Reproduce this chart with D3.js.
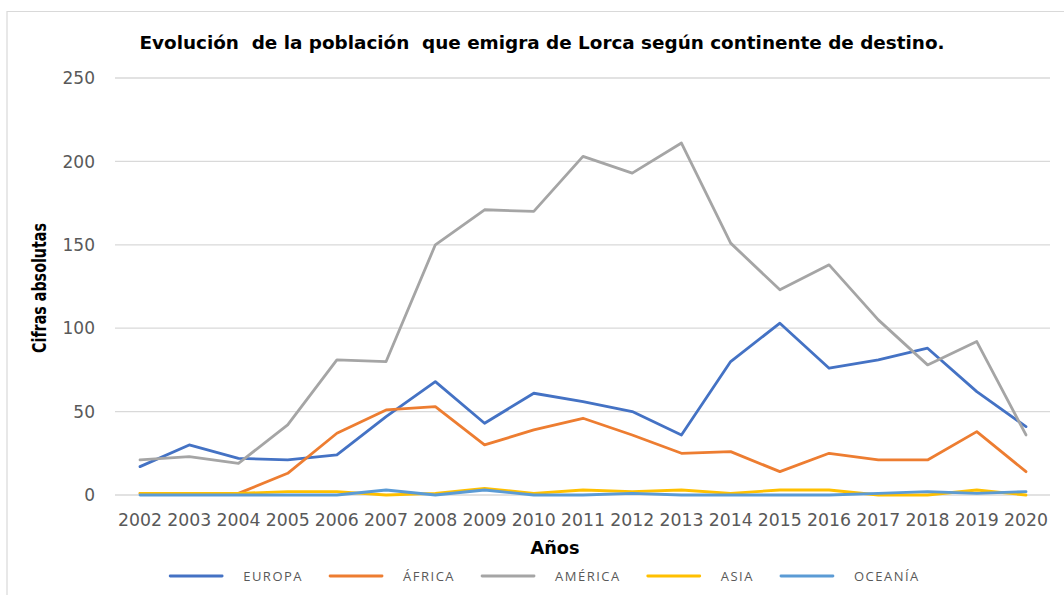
<!DOCTYPE html>
<html>
<head>
<meta charset="utf-8">
<script src="https://cdn.jsdelivr.net/npm/d3@7"></script>
<style>
  html, body { margin: 0; padding: 0; background: #fff; }
  svg { display: block; }
  text { white-space: pre; }
</style>
</head>
<body>
<svg id="chart" width="1064" height="595"></svg>
<script>
// years on the x axis
const years = ["2002","2003","2004","2005","2006","2007","2008","2009","2010","2011",
               "2012","2013","2014","2015","2016","2017","2018","2019","2020"];

// emigrants per destination continent
const europa  = [17, 30, 22, 21, 24, 47, 68, 43, 61, 56, 50, 36, 80, 103, 76, 81, 88, 62, 41];
const africa  = [1, 1, 1, 13, 37, 51, 53, 30, 39, 46, 36, 25, 26, 14, 25, 21, 21, 38, 14];
const america = [21, 23, 19, 42, 81, 80, 150, 171, 170, 203, 193, 211, 151, 123, 138, 105, 78, 92, 36];
const asia    = [1, 1, 1, 2, 2, 0, 1, 4, 1, 3, 2, 3, 1, 3, 3, 0, 0, 3, 0];
const oceania = [0, 0, 0, 0, 0, 3, 0, 3, 0, 0, 1, 0, 0, 0, 0, 1, 2, 1, 2];

const seriesNames = ["EUROPA", "ÁFRICA", "AMÉRICA", "ASIA", "OCEANÍA"];
const seriesColors = ["#4472C4", "#ED7D31", "#A5A5A5", "#FFC000", "#5B9BD5"];
const yTicks = [0, 50, 100, 150, 200, 250];

const series = [europa, africa, america, asia, oceania].map((vals, i) => ({
  name: seriesNames[i],
  color: seriesColors[i],
  values: vals.map((v, j) => ({ year: years[j], value: v }))
}));

const svg = d3.select("svg#chart");
const textColor = "#595959";

// chart frame (light border, as in the spreadsheet export)
svg.append("path")
  .attr("d", "M7,600 V11.5 H1070")
  .attr("fill", "none")
  .attr("stroke", "#d9d9d9")
  .attr("stroke-width", 1.2);

const x = d3.scalePoint().domain(years).range([140, 1026]);
const y = d3.scaleLinear().domain([0, 250]).range([495, 78]);

// gridlines
svg.append("g")
  .selectAll("line")
  .data(yTicks)
  .join("line")
  .attr("x1", 115)
  .attr("x2", 1050)
  .attr("y1", d => y(d))
  .attr("y2", d => y(d))
  .attr("stroke", "#d9d9d9")
  .attr("stroke-width", 1.3);

// y axis labels
svg.append("g")
  .selectAll("text")
  .data(yTicks)
  .join("text")
  .attr("x", 95)
  .attr("y", d => y(d))
  .attr("dy", "0.36em")
  .attr("text-anchor", "end")
  .attr("font-family", "'DejaVu Sans', sans-serif")
  .attr("font-size", 17)
  .attr("fill", textColor)
  .text(d => d);

// x axis labels
svg.append("g")
  .selectAll("text")
  .data(years)
  .join("text")
  .attr("x", d => x(d))
  .attr("y", 526)
  .attr("text-anchor", "middle")
  .attr("font-family", "'DejaVu Sans', sans-serif")
  .attr("font-size", 17)
  .attr("textLength", 44)
  .attr("lengthAdjust", "spacingAndGlyphs")
  .attr("fill", textColor)
  .text(d => d);

// lines
const line = d3.line()
  .x(d => x(d.year))
  .y(d => y(d.value));

svg.append("g")
  .selectAll("path")
  .data(series)
  .join("path")
  .attr("d", d => line(d.values))
  .attr("fill", "none")
  .attr("stroke", d => d.color)
  .attr("stroke-width", 2.8)
  .attr("stroke-linejoin", "round")
  .attr("stroke-linecap", "round");

// title
svg.append("text")
  .attr("x", 542)
  .attr("y", 49)
  .attr("text-anchor", "middle")
  .attr("font-family", "'DejaVu Sans Condensed', 'DejaVu Sans', sans-serif")
  .attr("font-weight", "bold")
  .attr("font-size", 17)
  .attr("textLength", 805)
  .attr("lengthAdjust", "spacingAndGlyphs")
  .attr("fill", "#000")
  .text("Evolución  de la población  que emigra de Lorca según continente de destino.");

// axis titles
svg.append("text")
  .attr("transform", "translate(46,288) rotate(-90)")
  .attr("text-anchor", "middle")
  .attr("font-family", "'Liberation Sans Narrow', 'DejaVu Sans Condensed', sans-serif")
  .attr("font-weight", "bold")
  .attr("font-size", 19)
  .attr("textLength", 130)
  .attr("lengthAdjust", "spacingAndGlyphs")
  .attr("fill", "#000")
  .text("Cifras absolutas");

svg.append("text")
  .attr("x", 555)
  .attr("y", 554)
  .attr("text-anchor", "middle")
  .attr("font-family", "'DejaVu Sans Condensed', sans-serif")
  .attr("font-weight", "bold")
  .attr("font-size", 18)
  .attr("textLength", 49)
  .attr("lengthAdjust", "spacingAndGlyphs")
  .attr("fill", "#000")
  .text("Años");

// legend, laid out item after item
const legend = svg.append("g");
let lx = 0;
series.forEach(s => {
  const g = legend.append("g").attr("transform", `translate(${lx},0)`);
  g.append("line")
    .attr("x1", 0).attr("x2", 52)
    .attr("y1", 0).attr("y2", 0)
    .attr("stroke", s.color)
    .attr("stroke-width", 2.8)
    .attr("stroke-linecap", "round");
  const t = g.append("text")
    .attr("x", 73)
    .attr("dy", "0.36em")
    .attr("font-family", "'Open Sans', sans-serif")
    .attr("font-size", 13)
    .attr("letter-spacing", 1.5)
    .attr("fill", textColor)
    .text(s.name);
  lx += 73 + t.node().getComputedTextLength() + 27;
});
const legendWidth = lx - 27;
legend.attr("transform", `translate(${545 - legendWidth / 2},576)`);
</script>
</body>
</html>
